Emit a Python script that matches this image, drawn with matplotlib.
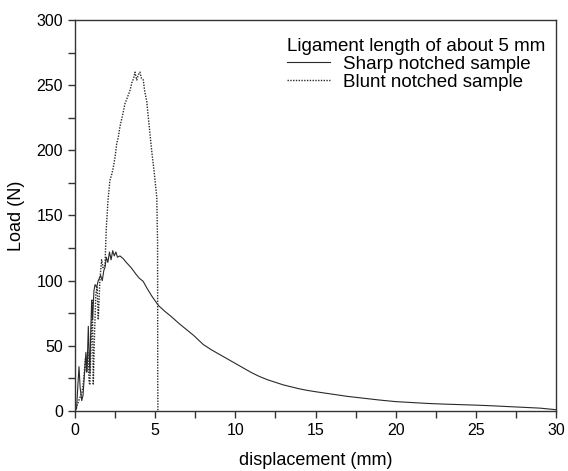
import matplotlib.pyplot as plt
from matplotlib.lines import Line2D
from matplotlib.ticker import MultipleLocator

plt.rcParams['font.family'] = ['Liberation Sans', 'DejaVu Sans']

# sharp notched sample (solid)
sharp_x = [0.0, 0.1, 0.18, 0.25, 0.32, 0.42, 0.5, 0.6, 0.68, 0.75, 0.83, 0.88, 0.93,
           0.98, 1.04, 1.1, 1.18, 1.25, 1.35, 1.45, 1.6, 1.7, 1.8, 1.87, 1.95, 2.05,
           2.15, 2.25, 2.35, 2.45, 2.55, 2.65, 2.8, 3.0, 3.2, 3.5, 3.8, 4.0, 4.25,
           4.5, 4.8, 5.2, 5.6, 6.0, 6.5, 7.0, 7.4, 8.0, 8.5, 9.0, 9.5, 10.0, 10.5,
           11.0, 11.5, 12.0, 12.5, 13.0, 13.5, 14.0, 14.5, 15.0, 16.0, 17.0, 18.0,
           19.0, 20.0, 21.0, 22.0, 23.0, 24.0, 25.0, 26.0, 27.0, 28.0, 29.0, 30.0]
sharp_y = [0.0, 2.0, 20.0, 34.0, 18.0, 8.0, 12.0, 30.0, 45.0, 30.0, 65.0, 45.0, 29.0,
           60.0, 85.0, 70.0, 92.0, 97.0, 95.0, 100.0, 104.0, 100.0, 108.0, 110.0, 118.0,
           114.0, 122.0, 116.0, 123.0, 119.0, 122.0, 118.0, 119.0, 117.0, 114.0, 110.0,
           105.0, 102.0, 99.5, 94.0, 88.0, 81.0, 76.5, 72.5, 67.0, 62.0, 58.0, 51.0,
           47.0, 43.5, 40.0, 36.5, 33.0, 29.5, 26.5, 24.0, 22.0, 20.0, 18.5, 17.0,
           15.8, 14.8, 13.0, 11.2, 9.8, 8.4, 7.2, 6.5, 5.8, 5.3, 4.9, 4.5, 4.0, 3.4,
           2.8, 2.2, 1.0]

# blunt notched sample (dotted)
blunt_x = [0.0, 0.15, 0.3, 0.45, 0.55, 0.65, 0.72, 0.8, 0.88, 0.93, 1.0, 1.08, 1.14,
           1.22, 1.3, 1.38, 1.45, 1.55, 1.66, 1.75, 1.87, 1.95, 2.06, 2.18, 2.3,
           2.39, 2.5, 2.6, 2.7, 2.8, 2.95, 3.12, 3.25, 3.43, 3.55, 3.65, 3.74, 3.85,
           3.95, 4.05, 4.15, 4.26, 4.35, 4.47, 4.6, 4.78, 4.95, 5.1, 5.15, 5.16, 5.17]
blunt_y = [0.0, 5.0, 10.0, 15.0, 25.0, 40.0, 30.0, 45.0, 22.0, 20.0, 50.0, 85.0, 20.0,
           60.0, 90.0, 95.0, 70.0, 100.0, 116.0, 110.0, 112.0, 140.0, 162.0, 177.0, 182.0,
           187.0, 195.0, 205.0, 210.0, 218.0, 226.0, 236.0, 240.0, 246.0, 252.0, 255.0,
           260.0, 254.0, 258.0, 260.0, 255.0, 254.0, 245.0, 238.0, 222.0, 200.0, 182.0,
           164.0, 129.0, 30.0, 0.0]

fig = plt.figure(figsize=(5.68, 4.71), dpi=100)
ax = fig.add_axes([75 / 568, 60 / 471, 481 / 568, 391 / 471])

col = '#2a2a2a'
ax.plot(sharp_x, sharp_y, color=col, lw=0.8, ls='-')
ax.plot(blunt_x, blunt_y, color=col, lw=1.0, ls=(0, (1, 1)))

ax.set_xlim(0, 30)
ax.set_ylim(0, 300)
ax.xaxis.set_major_locator(MultipleLocator(5))
ax.xaxis.set_minor_locator(MultipleLocator(2.5))
ax.yaxis.set_major_locator(MultipleLocator(50))
ax.yaxis.set_minor_locator(MultipleLocator(25))
ax.tick_params(which='both', direction='out', top=False, right=False,
               labelsize=11.5, color='#333333', width=1.0)
ax.tick_params(which='major', length=5)
ax.tick_params(which='minor', length=5)
for s in ax.spines.values():
    s.set_color('#333333')
    s.set_linewidth(1.0)

ax.set_xlabel('displacement (mm)', fontsize=13, labelpad=10)
ax.set_ylabel('Load (N)', fontsize=13, labelpad=8)

handles = [Line2D([], [], color=col, lw=0.8, ls='-'),
           Line2D([], [], color=col, lw=1.0, ls=(0, (1, 1)))]
leg = ax.legend(handles, ['Sharp notched sample', 'Blunt notched sample'],
                title='Ligament length of about 5 mm', loc='upper right',
                bbox_to_anchor=(0.977, 0.955), frameon=False, fontsize=13.5,
                title_fontsize=13.5, handlelength=2.3, handletextpad=0.7,
                labelspacing=0.05, borderaxespad=0.0, borderpad=0.0)
leg._legend_box.align = 'left'

fig.savefig('out.png', dpi=100)
